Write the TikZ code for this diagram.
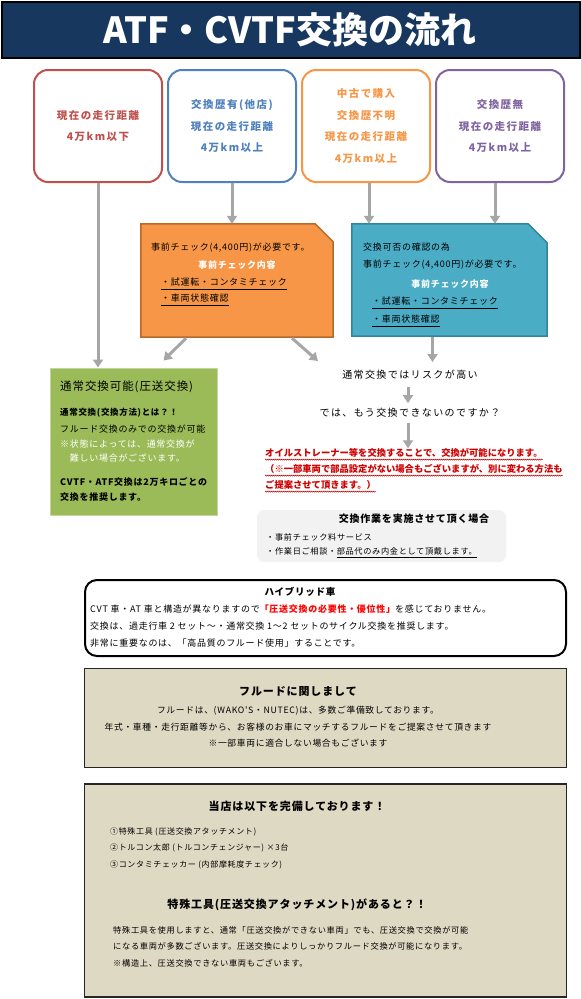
\documentclass[tikz,border=0pt]{standalone}
\usepackage{fontspec}
\setmainfont{Noto Sans CJK JP}
\newfontfamily\jpA{Noto Sans CJK JP}
\newfontfamily\jpB[LetterSpace=8]{Noto Sans CJK JP}
\newfontfamily\jpC[LetterSpace=14]{Noto Sans CJK JP}
\newcommand{\myfs}[1]{\fontsize{#1}{#1}\selectfont}
\usetikzlibrary{arrows.meta,calc,decorations.pathmorphing}
\definecolor{navy}{HTML}{17375E}
\definecolor{cred}{HTML}{C0504D}
\definecolor{cblue}{HTML}{4F81BD}
\definecolor{corange}{HTML}{F79646}
\definecolor{cpurple}{HTML}{8064A2}
\definecolor{agray}{HTML}{A6A6A6}
\definecolor{oboxdk}{HTML}{B66A2C}
\definecolor{tbox}{HTML}{4BACC6}
\definecolor{tboxdk}{HTML}{31849B}
\definecolor{cgreen}{HTML}{9BBB59}
\definecolor{cgreendk}{HTML}{C3D69B}
\definecolor{rtext}{HTML}{D00000}
\definecolor{hred}{HTML}{FF0000}
\definecolor{lgray}{HTML}{F2F2F2}
\definecolor{beige}{HTML}{DDD9C3}
\tikzset{
  topbox/.style={rounded corners=14pt, line width=2pt, fill=white, minimum width=128pt, minimum height=112pt, align=center, inner sep=0pt, font={\jpC\bfseries\fontsize{10.5}{21.7}\selectfont}},
  garrow/.style={draw=agray, line width=3pt, -{Triangle[width=10pt,length=8pt]}},
  tw/.style={inner sep=0pt, anchor=west},
  tc/.style={inner sep=0pt},
  uline/.style={line width=0.6pt},
  wavy/.style={rtext, line width=0.5pt, decorate, decoration={snake, amplitude=0.6pt, segment length=2pt}},
}
\begin{document}
\begin{tikzpicture}[x=1pt,y=-1pt]
\useasboundingbox (0,0) rectangle (581,999);
\fill[white] (0,0) rectangle (581,999);
% header
\node[draw=black,line width=2pt,fill=navy,minimum width=578pt,minimum height=56pt,inner sep=0pt] (hdr) at (290.5,29.5) {};
\node[tc,text=white,font={\jpA\bfseries\myfs{36}}] (title) at (290,30) {ATF・CVTF交換の流れ};
% top boxes
\node[topbox,draw=cred,text=cred] (b1) at (98,126) {現在の走行距離\\4万km以下};
\node[topbox,draw=cblue,text=cblue] (b2) at (232,126) {交換歴有(他店)\\現在の走行距離\\4万km以上};
\node[topbox,draw=corange,text=corange] (b3) at (366,126) {中古で購入\\交換歴不明\\現在の走行距離\\4万km以上};
\node[topbox,draw=cpurple,text=cpurple] (b4) at (500,126) {交換歴無\\現在の走行距離\\4万km以上};
% orange box
\node[minimum width=192pt,minimum height=113pt,inner sep=0pt] (ob) at (237,280.5) {};
\filldraw[fill=corange,draw=oboxdk,line width=1.5pt] (ob.north west) -- ([xshift=-18pt]ob.north east) -- ([yshift=-18pt]ob.north east) -- (ob.south east) -- (ob.south west) -- cycle;
\node[tw,font={\jpB\myfs{9}}] (o1) at (151,248) {事前チェック(4,400円)が必要です。};
\node[tc,text=white,font={\jpB\bfseries\myfs{9}}] (o2) at (237,265) {事前チェック内容};
\node[tw,font={\jpB\myfs{9}}] (o3) at (161,282) {・試運転・コンタミチェック};
\node[tw,font={\jpB\myfs{9}}] (o4) at (161,298) {・車両状態確認};
\draw[uline] ([yshift=-3.5pt]o3.base west) -- ([yshift=-3.5pt]o3.base east);
\draw[uline] ([yshift=-3.5pt]o4.base west) -- ([yshift=-3.5pt]o4.base east);
% teal box
\node[minimum width=195pt,minimum height=112pt,inner sep=0pt] (tb) at (449.5,280) {};
\filldraw[fill=tbox,draw=tboxdk,line width=1.5pt] (tb.north west) -- ([xshift=-19pt]tb.north east) -- ([yshift=-19pt]tb.north east) -- (tb.south east) -- (tb.south west) -- cycle;
\node[tw,font={\jpB\myfs{9}}] (t1) at (363,247) {交換可否の確認の為};
\node[tw,font={\jpB\myfs{9}}] (t2) at (363,265) {事前チェック(4,400円)が必要です。};
\node[tc,text=white,font={\jpB\bfseries\myfs{9}}] (t3) at (450,284) {事前チェック内容};
\node[tw,font={\jpB\myfs{9}}] (t4) at (372,301) {・試運転・コンタミチェック};
\node[tw,font={\jpB\myfs{9}}] (t5) at (372,319) {・車両状態確認};
\draw[uline] ([yshift=-4pt]t4.base west) -- ([yshift=-4pt]t4.base east);
\draw[uline] ([yshift=-4pt]t5.base west) -- ([yshift=-4pt]t5.base east);
% green box
\node[draw=cgreendk,fill=cgreen,line width=1pt,minimum width=167pt,minimum height=147pt,inner sep=0pt] (gb) at (133.5,441.5) {};
\node[tw,font={\jpB\myfs{11.5}}] (g1) at (60,387) {通常交換可能(圧送交換)};
\node[tw,font={\jpB\bfseries\myfs{8.5}}] (g2) at (60,413) {通常交換(交換方法)とは？！};
\node[tw,font={\jpB\myfs{9}}] (g3) at (60,429) {フルード交換のみでの交換が可能};
\node[tw,text=white,font={\jpB\myfs{9}}] (g4) at (60,444) {※状態によっては、通常交換が};
\node[tw,text=white,font={\jpB\myfs{9}}] (g5) at (60,458) {　難しい場合がございます。};
\node[tw,font={\jpB\bfseries\myfs{9}}] (g6) at (60,482) {CVTF・ATF交換は2万キロごとの};
\node[tw,font={\jpB\bfseries\myfs{9}}] (g7) at (60,497) {交換を推奨します。};
% middle texts
\node[tc,font={\jpC\myfs{10}}] (risk) at (410,375) {通常交換ではリスクが高い};
\node[tc,font={\jpC\myfs{10}}] (ask) at (410,413) {では、もう交換できないのですか？};
\node[tw,text=rtext,font={\jpA\bfseries\myfs{9.3}}] (r1) at (265,453) {オイルストレーナー等を交換することで、交換が可能になります。};
\node[tw,text=rtext,font={\jpA\bfseries\myfs{9.3}}] (r2) at (265,469) {（※一部車両で部品設定がない場合もございますが、別に変わる方法も};
\node[tw,text=rtext,font={\jpA\bfseries\myfs{9.3}}] (r3) at (265,485) {ご提案させて頂きます。）};
\draw[wavy] ([yshift=-3pt]r1.base west) -- ([yshift=-3pt]r1.base east);
\draw[wavy] ([yshift=-3pt]r2.base west) -- ([yshift=-3pt]r2.base east);
\draw[wavy] ([yshift=-3pt]r3.base west) -- ([yshift=-3pt]r3.base east);
% arrows
\coordinate (riskin) at (318,361);
\draw[garrow] (b1.south) -- (b1.south |- gb.north);
\draw[garrow] (b2.south) -- (b2.south |- ob.north);
\draw[garrow] ([xshift=3pt]b3.south) -- ([xshift=3pt]b3.south |- tb.north);
\draw[garrow] ([xshift=-5pt]b4.south) -- ([xshift=-5pt]b4.south |- tb.north);
\draw[garrow] ([xshift=-51pt,yshift=-1pt]ob.south) -- ([xshift=30pt,yshift=7pt]gb.north);
\draw[garrow] ([xshift=55pt,yshift=-1pt]ob.south) -- (riskin);
\draw[garrow] ([xshift=-17pt,yshift=-1pt]tb.south) -- ([xshift=-17pt,yshift=-1pt]tb.south |- riskin);
\draw[garrow] ([xshift=-2pt,yshift=-7pt]risk.south) -- ([xshift=-2pt,yshift=5pt]ask.north);
\draw[garrow] ([xshift=-2pt,yshift=-5pt]ask.south) -- ([xshift=-2pt]ask.south |- r1.north);
% gray box
\node[fill=lgray,rounded corners=7pt,minimum width=249pt,minimum height=52pt,inner sep=0pt] (gray) at (381.5,536) {};
\node[tc,font={\jpB\bfseries\myfs{10}}] (k1) at (414,519) {交換作業を実施させて頂く場合};
\node[tw,font={\jpB\myfs{8.2}}] (k2) at (266,537) {・事前チェック料サービス};
\node[tw,font={\jpB\myfs{8.2}}] (k3) at (266,551) {・作業日ご相談・\kern0pt};
\node[tw,font={\jpB\myfs{8.2}},inner sep=0pt] (k4) at (k3.east) {部品代のみ内金として頂戴します。};
\draw[uline] ([yshift=-3pt]k4.base west) -- ([yshift=-3pt]k4.base east);
% hybrid box
\node[draw=black,line width=2pt,rounded corners=12pt,fill=white,minimum width=481pt,minimum height=76pt,inner sep=0pt] (hyb) at (325.5,618) {};
\node[tc,font={\jpB\bfseries\myfs{9.5}}] (h0) at (300,592) {ハイブリッド車};
\node[tw,font={\jpB\myfs{9}}] (h1) at (90,609) {CVT 車・AT 車と構造が異なりますので{\color{hred}\bfseries 「圧送交換の必要性・優位性」}を感じておりません。};
\node[tw,font={\jpB\myfs{9}}] (h2) at (90,626) {交換は、過走行車 2 セット〜・通常交換 1〜2 セットのサイクル交換を推奨します。};
\node[tw,font={\jpB\myfs{9}}] (h3) at (90,643) {非常に重要なのは、「高品質のフルード使用」することです。};
% fluid box
\node[draw=black!85,line width=1.5pt,fill=beige,minimum width=482pt,minimum height=99pt,inner sep=0pt] (fl) at (325.5,718) {};
\node[tc,font={\jpB\bfseries\myfs{11}}] (f0) at (298,692) {フルードに関しまして};
\node[tc,font={\jpB\myfs{8.75}}] (f1) at (298,711) {フルードは、(WAKO'S・NUTEC)は、多数ご準備致しております。};
\node[tc,font={\jpB\myfs{8.75}}] (f2) at (298,727) {年式・車種・走行距離等から、お客様のお車にマッチするフルードをご提案させて頂きます};
\node[tc,font={\jpB\myfs{8.75}}] (f3) at (298,743) {※一部車両に適合しない場合もございます};
% bottom box
\node[draw=black!85,line width=1.5pt,fill=beige,minimum width=482pt,minimum height=213pt,inner sep=0pt] (eq) at (325.5,890.5) {};
\node[tc,font={\jpB\bfseries\myfs{11}}] (e0) at (297,806) {当店は以下を完備しております！};
\node[tw,font={\jpB\myfs{8}}] (e1) at (110,832) {①特殊工具 (圧送交換アタッチメント)};
\node[tw,font={\jpB\myfs{8}}] (e2) at (110,848) {②トルコン太郎 (トルコンチェンジャー) ×3台};
\node[tw,font={\jpB\myfs{8}}] (e3) at (110,865) {③コンタミチェッカー (内部摩耗度チェック)};
\node[tc,font={\jpB\bfseries\myfs{11}}] (e4) at (297,905) {特殊工具(圧送交換アタッチメント)があると？！};
\node[tw,font={\jpB\myfs{8.25}}] (e5) at (113,930) {特殊工具を使用しますと、通常「圧送交換ができない車両」でも、圧送交換で交換が可能};
\node[tw,font={\jpB\myfs{8.25}}] (e6) at (113,946) {になる車両が多数ございます。圧送交換によりしっかりフルード交換が可能になります。};
\node[tw,font={\jpB\myfs{8.25}}] (e7) at (113,963) {※構造上、圧送交換できない車両もございます。};
\end{tikzpicture}
\end{document}
